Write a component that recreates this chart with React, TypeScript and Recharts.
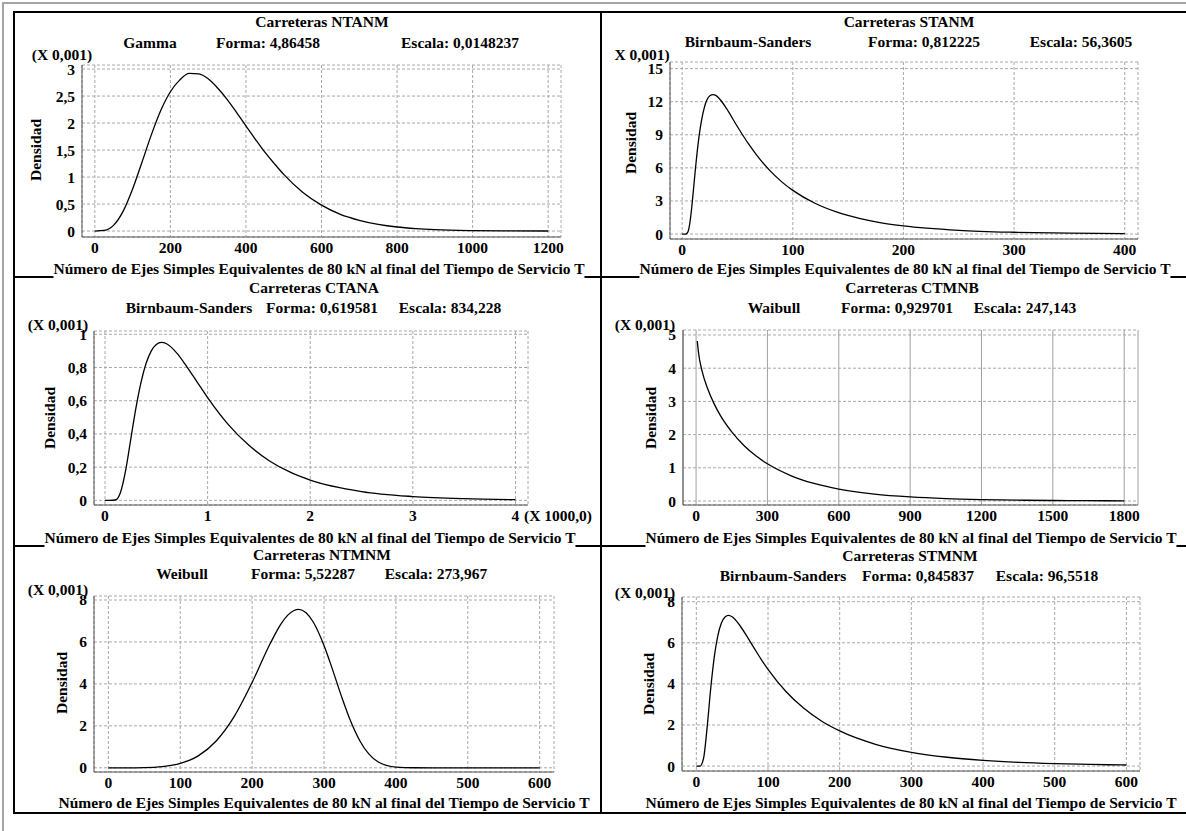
import React from 'react';
import { LineChart, Line, XAxis, YAxis, CartesianGrid } from 'recharts';

const FONT = "'Liberation Serif', 'Times New Roman', Times, serif";
const FS = 15.5;

// Carreteras NTANM - Gamma (densidad x 0,001)
const ntanmX = [0, 25, 50, 75, 100, 125, 150, 175, 200, 225, 250, 275, 300, 325, 350, 375, 400, 425, 450, 475, 500, 550, 600, 650, 700, 750, 800, 850, 900, 1000, 1100, 1200];
const ntanmY = [0, 0.011, 0.11, 0.37, 0.78, 1.28, 1.79, 2.24, 2.58, 2.8, 2.92, 2.91, 2.82, 2.65, 2.44, 2.2, 1.95, 1.7, 1.46, 1.25, 1.05, 0.72, 0.48, 0.31, 0.2, 0.124, 0.075, 0.046, 0.027, 0.009, 0.003, 0.001];
const ntanmXTicks = [0, 200, 400, 600, 800, 1000, 1200];
const ntanmYTicks = [0, 0.5, 1, 1.5, 2, 2.5, 3];

// Carreteras STANM - Birnbaum-Sanders
const stanmX = [0, 3, 5, 6, 8, 10, 12, 15, 20, 25, 28, 30, 35, 40, 50, 60, 70, 80, 90, 100, 120, 140, 160, 180, 200, 250, 300, 350, 400];
const stanmY = [0, 0, 0.15, 0.47, 1.82, 3.81, 5.92, 8.67, 11.47, 12.54, 12.65, 12.59, 12.11, 11.39, 9.73, 8.17, 6.81, 5.68, 4.73, 3.96, 2.79, 1.98, 1.42, 1.02, 0.74, 0.34, 0.16, 0.074, 0.035];
const stanmXTicks = [0, 100, 200, 300, 400];
const stanmYTicks = [0, 3, 6, 9, 12, 15];

// Carreteras CTANA - Birnbaum-Sanders (x en miles)
const ctanaX = [0, 0.05, 0.1, 0.15, 0.2, 0.25, 0.3, 0.35, 0.4, 0.45, 0.5, 0.55, 0.6, 0.7, 0.8, 0.9, 1.0, 1.2, 1.4, 1.6, 1.8, 2.0, 2.5, 3.0, 3.5, 4.0];
const ctanaY = [0, 0, 0.002, 0.046, 0.176, 0.363, 0.551, 0.708, 0.824, 0.899, 0.938, 0.951, 0.943, 0.887, 0.803, 0.711, 0.619, 0.458, 0.333, 0.239, 0.171, 0.122, 0.053, 0.023, 0.0098, 0.0043];
const ctanaXTicks = [0, 1, 2, 3, 4];
const ctanaYTicks = [0, 0.2, 0.4, 0.6, 0.8, 1];

// Carreteras CTMNB - Weibull
const ctmnbX = [5, 10, 25, 50, 75, 100, 150, 200, 250, 300, 400, 500, 600, 750, 900, 1050, 1200, 1350, 1500, 1650, 1800];
const ctmnbY = [4.82, 4.48, 3.92, 3.36, 2.94, 2.6, 2.08, 1.68, 1.37, 1.12, 0.76, 0.52, 0.36, 0.21, 0.124, 0.073, 0.044, 0.026, 0.016, 0.0095, 0.0058];
const ctmnbXTicks = [0, 300, 600, 900, 1200, 1500, 1800];
const ctmnbYTicks = [0, 1, 2, 3, 4, 5];

// Carreteras NTMNM - Weibull
const ntmnmX = [0, 25, 50, 75, 100, 125, 150, 175, 200, 225, 240, 250, 265, 275, 285, 300, 312, 325, 337, 350, 375, 400, 425, 450, 500, 550, 600];
const ntmnmY = [0, 0, 0.009, 0.057, 0.21, 0.57, 1.28, 2.44, 4.07, 5.91, 6.85, 7.29, 7.55, 7.39, 6.95, 5.83, 4.67, 3.34, 2.23, 1.28, 0.29, 0.034, 0.002, 0, 0, 0, 0];
const ntmnmXTicks = [0, 100, 200, 300, 400, 500, 600];
const ntmnmYTicks = [0, 2, 4, 6, 8];

// Carreteras STMNM - Birnbaum-Sanders
const stmnmX = [0, 5, 10, 15, 20, 25, 30, 35, 40, 45, 50, 60, 70, 80, 90, 100, 125, 150, 175, 200, 250, 300, 350, 400, 450, 500, 550, 600];
const stmnmY = [0, 0, 0.36, 1.86, 3.75, 5.3, 6.35, 6.96, 7.26, 7.34, 7.27, 6.88, 6.35, 5.78, 5.22, 4.71, 3.63, 2.81, 2.18, 1.71, 1.06, 0.67, 0.43, 0.28, 0.18, 0.12, 0.08, 0.053];
const stmnmXTicks = [0, 100, 200, 300, 400, 500, 600];
const stmnmYTicks = [0, 2, 4, 6, 8];

type Box = { l: number; t: number; r: number; b: number };
type Cfg = {
  xs: number[];
  ys: number[];
  xTicks: number[];
  yTicks: number[];
  xMinor: number;
  yMinor: number;
  xDomain: [number, number];
  yDomain: [number, number];
  box: Box;
  solidV?: boolean;
};

const minorTicks = (d: [number, number], step: number) => {
  const out: number[] = [];
  const start = Math.ceil(d[0] / step - 1e-9);
  for (let i = start; i * step <= d[1] + 1e-9; i++) out.push(+(i * step).toFixed(6));
  return out;
};

const fmt = (v: number) => String(v).replace('.', ',');
const tickStyle = { fill: '#000', fontSize: FS, fontWeight: 700, fontFamily: FONT };
const BOX = '#555';

const Plot = ({ cfg }: { cfg: Cfg }) => {
  const { box } = cfg;
  const w = box.r - box.l + 70;
  const h = box.b - box.t + 40;
  const data = cfg.xs.map((x, i) => ({ x, y: cfg.ys[i] }));
  const xm = minorTicks(cfg.xDomain, cfg.xMinor);
  const ym = minorTicks(cfg.yDomain, cfg.yMinor);
  const xCommon = { type: 'number' as const, domain: cfg.xDomain, allowDataOverflow: true, interval: 0 as const };
  const yCommon = { type: 'number' as const, domain: cfg.yDomain, allowDataOverflow: true, interval: 0 as const };
  return (
    <div style={{ position: 'absolute', left: box.l - 60, top: box.t - 10 }}>
      <LineChart width={w} height={h} data={data} margin={{ top: 10, right: 10, bottom: 0, left: 0 }}>
        <CartesianGrid stroke="#a8a8a8" strokeDasharray="3 2" vertical={!cfg.solidV} />
        {cfg.solidV && <CartesianGrid stroke="#a0a0a0" horizontal={false} />}
        <XAxis dataKey="x" {...xCommon} ticks={cfg.xTicks} height={30} tickLine={false} tickSize={0} tickMargin={5}
          axisLine={{ stroke: BOX }} tick={tickStyle} tickFormatter={fmt} />
        <YAxis {...yCommon} ticks={cfg.yTicks} width={60} tickLine={false} tickSize={0} tickMargin={7}
          axisLine={{ stroke: BOX }} tick={tickStyle} tickFormatter={fmt} />

        <XAxis xAxisId="tMaj" orientation="top" mirror height={0} {...xCommon} ticks={cfg.xTicks} tick={false} tickSize={7} tickLine={{ stroke: BOX }} axisLine={{ stroke: BOX }} />
        <XAxis xAxisId="tMin" orientation="top" mirror height={0} {...xCommon} ticks={xm} tick={false} tickSize={4} tickLine={{ stroke: BOX }} axisLine={false} />
        <XAxis xAxisId="bMaj" orientation="bottom" mirror height={0} {...xCommon} ticks={cfg.xTicks} tick={false} tickSize={7} tickLine={{ stroke: BOX }} axisLine={false} />
        <XAxis xAxisId="bMin" orientation="bottom" mirror height={0} {...xCommon} ticks={xm} tick={false} tickSize={4} tickLine={{ stroke: BOX }} axisLine={false} />
        <YAxis yAxisId="lMaj" orientation="left" mirror width={0} {...yCommon} ticks={cfg.yTicks} tick={false} tickSize={7} tickLine={{ stroke: BOX }} axisLine={false} />
        <YAxis yAxisId="lMin" orientation="left" mirror width={0} {...yCommon} ticks={ym} tick={false} tickSize={4} tickLine={{ stroke: BOX }} axisLine={false} />
        <YAxis yAxisId="rMaj" orientation="right" mirror width={0} {...yCommon} ticks={cfg.yTicks} tick={false} tickSize={7} tickLine={{ stroke: BOX }} axisLine={{ stroke: BOX }} />
        <YAxis yAxisId="rMin" orientation="right" mirror width={0} {...yCommon} ticks={ym} tick={false} tickSize={4} tickLine={{ stroke: BOX }} axisLine={false} />

        <Line dataKey="y" type="monotone" stroke="#000" strokeWidth={1.3} dot={false} isAnimationActive={false} />
      </LineChart>
    </div>
  );
};

const T = ({ x, y, children, rot, bg, left }: { x: number; y: number; children: React.ReactNode; rot?: boolean; bg?: boolean; left?: boolean }) => (
  <div
    style={{
      position: 'absolute',
      left: x,
      top: y,
      transform: `translate(${left ? '0' : '-50%'},-50%)${rot ? ' rotate(-90deg)' : ''}`,
      whiteSpace: 'nowrap',
      font: `bold ${FS}px ${FONT}`,
      lineHeight: '20px',
      color: '#000',
      background: bg ? '#fff' : 'transparent',
    }}
  >
    {children}
  </div>
);

const XLABEL = 'Número de Ejes Simples Equivalentes de 80 kN al final del Tiempo de Servicio T';

const panels: Cfg[] = [
  { xs: ntanmX, ys: ntanmY, xTicks: ntanmXTicks, yTicks: ntanmYTicks, xMinor: 50, yMinor: 0.1, xDomain: [-34, 1234], yDomain: [-0.11, 3.075], box: { l: 82, t: 65, r: 561, b: 237 } },
  { xs: stanmX, ys: stanmY, xTicks: stanmXTicks, yTicks: stanmYTicks, xMinor: 25, yMinor: 1, xDomain: [-11, 412], yDomain: [-0.45, 15.6], box: { l: 670, t: 62, r: 1138, b: 239 } },
  { xs: ctanaX, ys: ctanaY, xTicks: ctanaXTicks, yTicks: ctanaYTicks, xMinor: 0.2, yMinor: 0.05, xDomain: [-0.107, 4.122], yDomain: [-0.028, 1.02], box: { l: 94, t: 331, r: 528, b: 505 } },
  { xs: ctmnbX, ys: ctmnbY, xTicks: ctmnbXTicks, yTicks: ctmnbYTicks, xMinor: 100, yMinor: 0.2, xDomain: [-55, 1858], yDomain: [-0.12, 5.15], box: { l: 683, t: 330, r: 1138, b: 505 }, solidV: true },
  { xs: ntmnmX, ys: ntmnmY, xTicks: ntmnmXTicks, yTicks: ntmnmYTicks, xMinor: 50, yMinor: 0.5, xDomain: [-20, 620], yDomain: [-0.2, 8.19], box: { l: 94, t: 596, r: 554, b: 772 } },
  { xs: stmnmX, ys: stmnmY, xTicks: stmnmXTicks, yTicks: stmnmYTicks, xMinor: 50, yMinor: 0.5, xDomain: [-20, 619], yDomain: [-0.24, 8.23], box: { l: 682, t: 597, r: 1140, b: 771 } },
];

const line = (l: number, t: number, w: number, h: number, c: string) => (
  <div style={{ position: 'absolute', left: l, top: t, width: w, height: h, background: c }} />
);

export default function App() {
  return (
    <div style={{ position: 'absolute', left: 0, top: 0, width: 1186, height: 831, background: '#fff', overflow: 'hidden' }}>
      {line(2, 2, 1184, 2, '#a6a6a6')}
      {line(2, 2, 2, 829, '#a6a6a6')}
      {line(13, 11, 1173, 2, '#000')}
      {line(13, 11, 2, 803, '#000')}
      {line(13, 812, 1173, 2, '#000')}
      {line(600, 11, 2, 803, '#000')}
      {line(13, 276, 1173, 2, '#000')}
      {line(13, 545, 1173, 2, '#000')}

      {panels.map((p, i) => (
        <Plot key={i} cfg={p} />
      ))}

      {/* NTANM */}
      <T x={322} y={22}>Carreteras NTANM</T>
      <T x={150} y={43}>Gamma</T>
      <T x={268} y={43}>Forma: 4,86458</T>
      <T x={460} y={43}>Escala: 0,0148237</T>
      <T x={62} y={55}>(X 0,001)</T>
      <T x={36} y={150} rot>Densidad</T>
      <T x={319} y={269} bg>{XLABEL}</T>

      {/* STANM */}
      <T x={909} y={22}>Carreteras STANM</T>
      <T x={748} y={42}>Birnbaum-Sanders</T>
      <T x={924} y={42}>Forma: 0,812225</T>
      <T x={1081} y={42}>Escala: 56,3605</T>
      <T x={642} y={55}>X 0,001)</T>
      <T x={631} y={143} rot>Densidad</T>
      <T x={905} y={269} bg>{XLABEL}</T>

      {/* CTANA */}
      <T x={314} y={288}>Carreteras CTANA</T>
      <T x={189} y={308}>Birnbaum-Sanders</T>
      <T x={322} y={308}>Forma: 0,619581</T>
      <T x={450} y={308}>Escala: 834,228</T>
      <T x={58} y={325}>(X 0,001)</T>
      <T x={50} y={418} rot>Densidad</T>
      <T x={524} y={516} left>(X 1000,0)</T>
      <T x={310} y={538} bg>{XLABEL}</T>

      {/* CTMNB */}
      <T x={912} y={288}>Carreteras CTMNB</T>
      <T x={774} y={308}>Waibull</T>
      <T x={897} y={308}>Forma: 0,929701</T>
      <T x={1025} y={308}>Escala: 247,143</T>
      <T x={645} y={325}>(X 0,001)</T>
      <T x={651} y={418} rot>Densidad</T>
      <T x={911} y={538} bg>{XLABEL}</T>

      {/* NTMNM */}
      <T x={322} y={555}>Carreteras NTMNM</T>
      <T x={182} y={574}>Weibull</T>
      <T x={303} y={574}>Forma: 5,52287</T>
      <T x={436} y={574}>Escala: 273,967</T>
      <T x={58} y={590}>(X 0,001)</T>
      <T x={62} y={683} rot>Densidad</T>
      <T x={324} y={803}>{XLABEL}</T>

      {/* STMNM */}
      <T x={910} y={556}>Carreteras STMNM</T>
      <T x={783} y={576}>Birnbaum-Sanders</T>
      <T x={918} y={576}>Forma: 0,845837</T>
      <T x={1047} y={576}>Escala: 96,5518</T>
      <T x={645} y={593}>(X 0,001)</T>
      <T x={649} y={684} rot>Densidad</T>
      <T x={911} y={803}>{XLABEL}</T>
    </div>
  );
}
